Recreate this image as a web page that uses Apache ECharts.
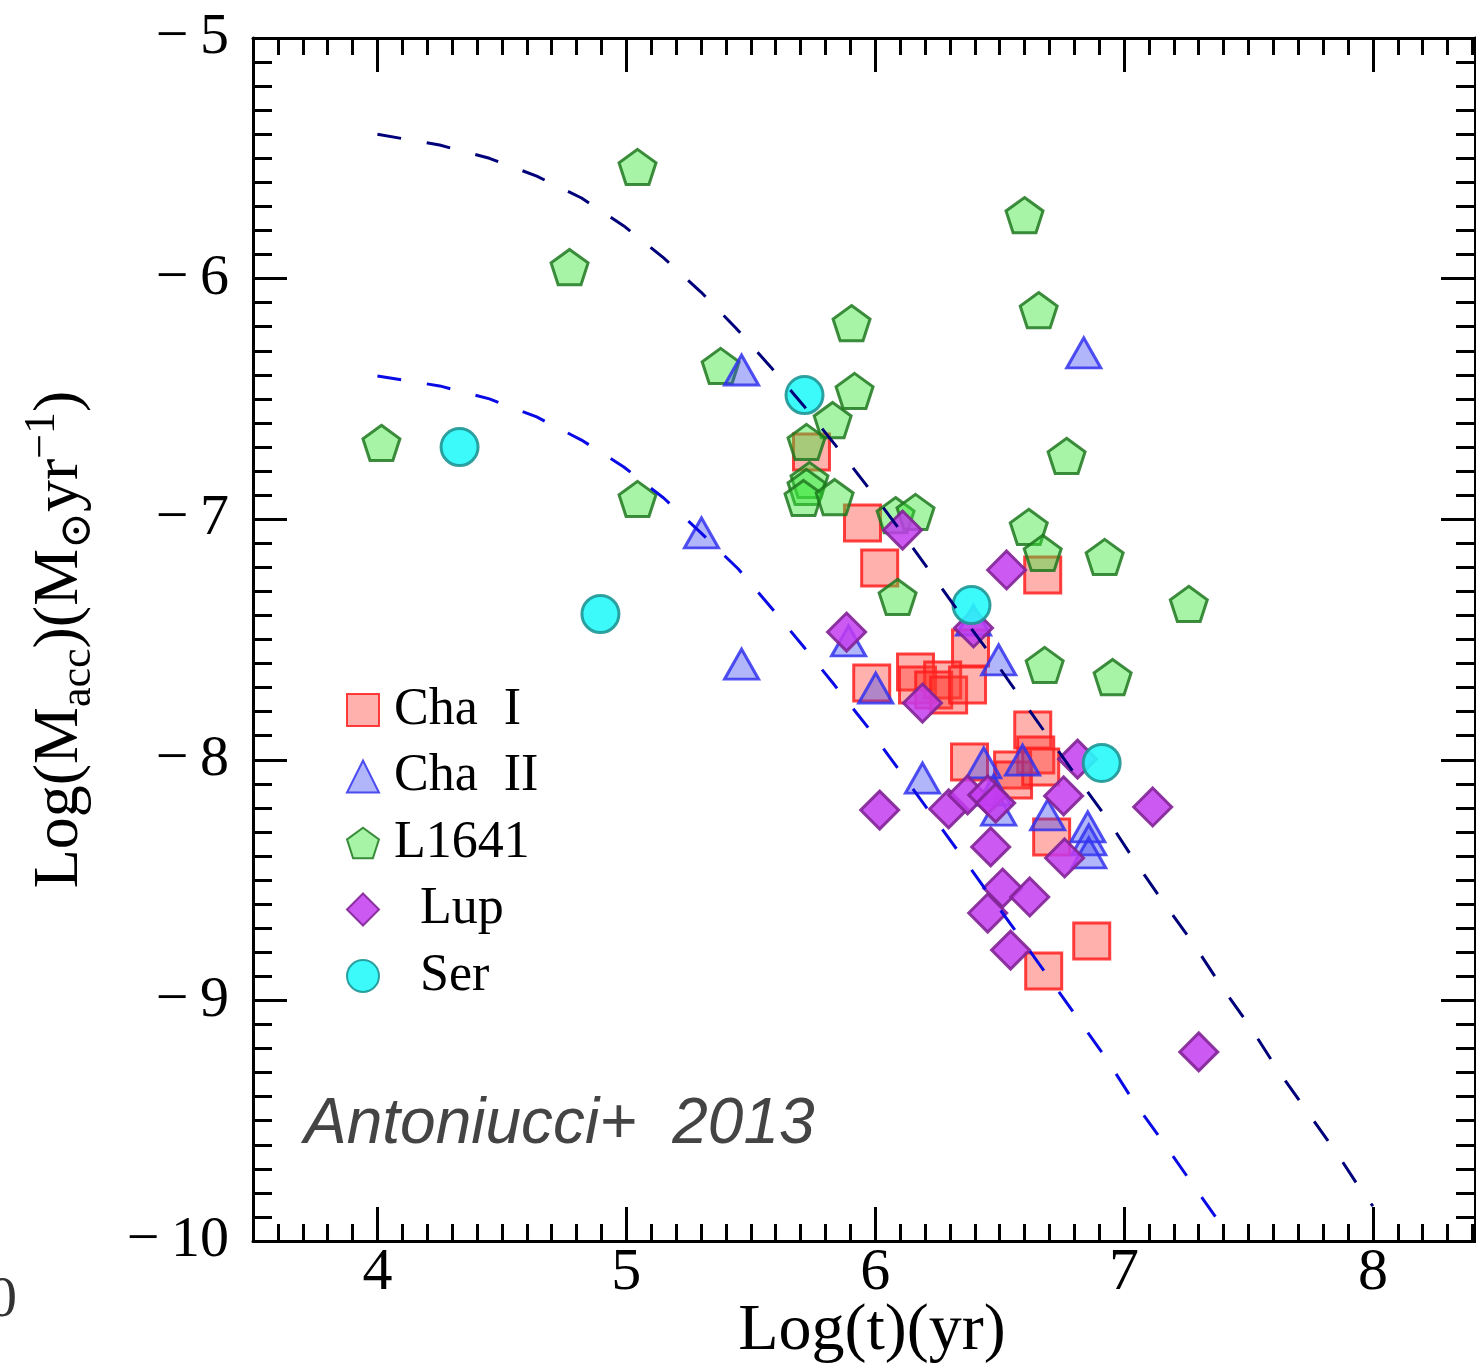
<!DOCTYPE html>
<html>
<head>
<meta charset="utf-8">
<script src="https://cdn.jsdelivr.net/npm/echarts@6/dist/echarts.min.js"></script>
<style>
html, body { margin: 0; padding: 0; background: #fff; }
#main { width: 1476px; height: 1369px; }
</style>
</head>
<body>
<div id="main"></div>
<script>
// values: [log t, log Macc]
var chaI = [
    [5.744, -6.721], [5.949, -7.016], [6.018, -7.203], [6.673, -7.232], [6.383, -7.535],
    [5.986, -7.681], [6.162, -7.635], [6.170, -7.689], [6.271, -7.668], [6.235, -7.710],
    [6.295, -7.731], [6.371, -7.689], [6.633, -7.876], [6.645, -7.980], [6.379, -8.009],
    [6.552, -8.042], [6.556, -8.084], [6.665, -8.030], [6.709, -8.321], [6.870, -8.753],
    [6.677, -8.878]
];
var chaII = [
    [5.463, -6.380], [6.838, -6.309], [5.302, -7.057], [5.463, -7.602], [5.893, -7.506],
    [6.002, -7.702], [6.496, -7.585], [6.395, -7.419], [6.190, -8.076], [6.436, -8.013],
    [6.592, -8.001], [6.476, -8.126], [6.496, -8.209], [6.693, -8.229], [6.854, -8.279],
    [6.858, -8.333], [6.858, -8.387]
];
var l1641 = [
    [5.045, -5.536], [4.772, -5.952], [4.016, -6.683], [5.045, -6.916], [5.379, -6.363],
    [5.905, -6.185], [5.917, -6.467], [5.829, -6.588], [5.724, -6.679], [5.736, -6.837],
    [5.724, -6.866], [5.712, -6.912], [5.837, -6.908], [6.082, -6.983], [6.162, -6.970],
    [6.090, -7.323], [6.600, -5.736], [6.657, -6.131], [6.769, -6.737], [6.617, -7.032],
    [6.673, -7.140], [6.922, -7.157], [7.260, -7.352], [6.681, -7.606], [6.954, -7.656]
];
var lup = [
    [5.885, -7.469], [6.110, -7.045], [6.528, -7.211], [6.395, -7.452], [6.190, -7.764],
    [6.018, -8.209], [6.295, -8.204], [6.371, -8.146], [6.452, -8.146], [6.484, -8.180],
    [6.757, -8.150], [6.813, -7.997], [7.115, -8.196], [6.464, -8.362], [6.512, -8.533],
    [6.621, -8.570], [6.452, -8.637], [6.544, -8.791], [6.761, -8.408], [7.300, -9.214]
];
var ser = [
    [4.330, -6.700], [4.896, -7.394], [5.716, -6.484], [6.387, -7.357], [6.910, -8.013]
];
// dashed model tracks, points read along the dashes
var trackUpper = [
    [4.00, -5.40], [4.25, -5.445], [4.45, -5.50], [4.64, -5.574], [4.82, -5.665],
    [4.99, -5.781], [5.15, -5.914], [5.30, -6.056], [5.44, -6.205], [5.58, -6.367],
    [5.71, -6.525], [5.84, -6.692], [5.97, -6.866], [6.09, -7.032], [6.21, -7.203],
    [6.33, -7.377], [6.45, -7.544], [6.57, -7.722], [6.69, -7.897], [6.81, -8.071],
    [6.93, -8.242], [7.04, -8.416], [7.16, -8.595], [7.28, -8.766], [7.39, -8.940],
    [7.51, -9.115], [7.62, -9.293], [7.74, -9.468], [7.86, -9.643], [7.97, -9.817],
    [8.00, -9.855]
];
var trackLower = [
    [4.00, -6.405], [4.25, -6.446], [4.45, -6.50], [4.64, -6.575], [4.82, -6.671],
    [4.99, -6.783], [5.15, -6.912], [5.30, -7.057], [5.45, -7.207], [5.58, -7.365],
    [5.71, -7.527], [5.83, -7.681], [5.97, -7.864], [6.09, -8.034], [6.21, -8.204],
    [6.33, -8.375], [6.45, -8.549], [6.57, -8.720], [6.69, -8.894], [6.93, -9.244],
    [7.04, -9.422], [7.16, -9.593], [7.28, -9.771], [7.39, -9.933], [7.42, -9.99]
];
var xTicks = [4, 5, 6, 7, 8];
var legendNames = ['Cha I', 'Cha II', 'L1641', 'Lup', 'Ser'];
var legendText = {'Cha I': 'Cha  I', 'Cha II': 'Cha  II', 'L1641': 'L1641', 'Lup': '  Lup', 'Ser': '  Ser'};

var serif = '"Liberation Serif", "DejaVu Serif", serif';
var pentagon = 'path://M0,-100L95.1,-30.9L58.8,80.9L-58.8,80.9L-95.1,-30.9Z';

var myChart = echarts.init(document.getElementById('main'));

var frame = {show: true, lineStyle: {color: '#000', width: 3}};
var tickStyle = {color: '#000', width: 3};

function xAxisPair(pos, labels) {
    return [
        {
            type: 'value', position: pos, min: 3.5, max: 8.41,
            splitLine: {show: false},
            axisLine: frame,
            axisTick: {inside: true, length: 34, customValues: xTicks, lineStyle: tickStyle},
            axisLabel: labels ? {customValues: xTicks, fontFamily: serif, fontSize: 60, color: '#000', margin: 2} : {show: false},
            name: labels ? 'Log(t)(yr)' : '',
            nameLocation: 'middle', nameGap: 58, nameMoveOverlap: false,
            nameTextStyle: {fontFamily: serif, fontSize: 66, color: '#000', padding: [0, 0, 0, 16]}
        },
        {
            type: 'value', position: pos, min: 3.5, max: 8.41, interval: 0.1,
            splitLine: {show: false},
            axisLine: {show: false},
            axisTick: {inside: true, length: 17, lineStyle: tickStyle},
            axisLabel: {show: false}
        }
    ];
}

function yAxisSide(pos, labels) {
    return {
        type: 'value', position: pos, min: -10, max: -5, interval: 1,
        splitLine: {show: false},
        axisLine: frame,
        axisTick: {inside: true, length: 34, lineStyle: tickStyle},
        minorTick: {show: true, splitNumber: 10, length: 19, lineStyle: tickStyle},
        axisLabel: labels ? {
            fontFamily: serif, fontSize: 58, color: '#000', margin: 24,
            formatter: function (v) { return '\u2212\u2009' + (-v); }
        } : {show: false},
        name: labels ? '{a|Log(M}{b|acc}{a|)(M}{b|\u2299}{a|yr}{c|\u22121}{a|)}' : '',
        nameLocation: 'middle', nameGap: 153,
        nameTextStyle: {
            rich: {
                a: {fontFamily: serif, fontSize: 64, color: '#000', lineHeight: 80},
                b: {fontFamily: serif, fontSize: 44, color: '#000', lineHeight: 44, verticalAlign: 'bottom'},
                c: {fontFamily: serif, fontSize: 44, color: '#000', lineHeight: 44, verticalAlign: 'top'}
            }
        }
    };
}

function scatter(name, data, symbol, size, fill, border) {
    return {
        name: name, type: 'scatter', data: data,
        symbol: symbol, symbolSize: size, symbolKeepAspect: true,
        itemStyle: {color: fill, borderColor: border, borderWidth: 3, opacity: 1},
        emphasis: {disabled: true}
    };
}

function track(data, color) {
    return {
        type: 'line', data: data, showSymbol: false, smooth: false, z: 5,
        lineStyle: {color: color, width: 3, type: [24, 26]},
        emphasis: {disabled: true}
    };
}

var option = {
    animation: false,
    backgroundColor: '#fff',
    grid: {left: 253, right: 1, top: 38, bottom: 128, outerBoundsMode: 'none', containLabel: false},
    xAxis: xAxisPair('bottom', true).concat(xAxisPair('top', false)),
    yAxis: [yAxisSide('left', true), yAxisSide('right', false)],
    legend: {
        orient: 'vertical', left: 341, top: 679,
        itemWidth: 32, itemHeight: 32, itemGap: 14.5,
        data: legendNames,
        formatter: function (n) { return legendText[n]; },
        textStyle: {fontFamily: serif, fontSize: 52, color: '#000', lineHeight: 52, padding: [0, 0, 0, 10]},
        selectedMode: false
    },
    graphic: [
        {
            type: 'text', left: 304, top: 1093,
            style: {text: 'Antoniucci+  2013', font: 'italic 64px "Liberation Sans", Arial, sans-serif', fill: '#444'}
        },
        {
            type: 'text', left: -12, top: 1272,
            style: {text: '0', font: '58px "Liberation Serif", serif', fill: '#333'}
        }
    ],
    series: [
        scatter('Cha I', chaI, 'rect', 36, 'rgba(255,60,50,0.4)', 'rgba(255,30,30,0.85)'),
        scatter('L1641', l1641, pentagon, 37, 'rgba(60,230,60,0.45)', 'rgba(30,120,30,0.85)'),
        scatter('Cha II', chaII, 'triangle', [34, 30], 'rgba(60,70,240,0.4)', 'rgba(50,50,240,0.85)'),
        scatter('Lup', lup, 'diamond', 38, 'rgba(195,60,240,0.85)', 'rgba(130,35,150,0.9)'),
        scatter('Ser', ser, 'circle', 37, 'rgba(40,250,250,0.9)', 'rgba(30,150,150,0.9)'),
        track(trackUpper, '#00007a'),
        track(trackLower, '#0a0ae6')
    ]
};

myChart.setOption(option);
</script>
</body>
</html>
